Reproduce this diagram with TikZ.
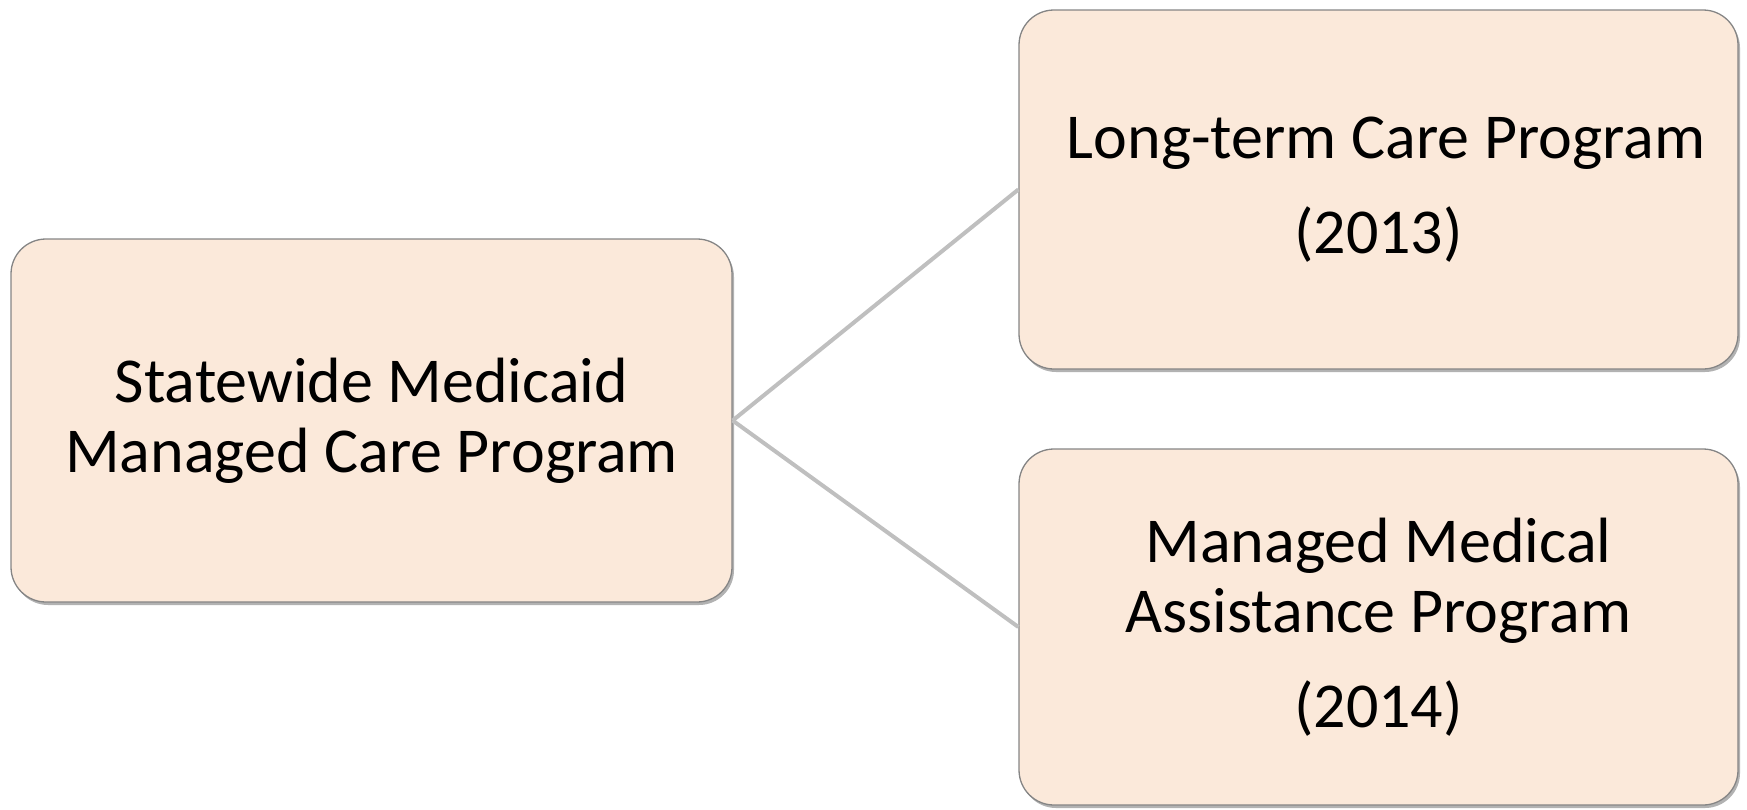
\documentclass[tikz,border=0pt]{standalone}
\usepackage{fontspec}
\setmainfont{Carlito}
\usetikzlibrary{shadows}
\definecolor{boxfill}{HTML}{FBE9DA}
\definecolor{boxline}{HTML}{858585}
\definecolor{conn}{HTML}{BFBFBF}
\tikzset{
  pbox/.style={draw=boxline, line width=1.3pt, fill=boxfill, rounded corners=35pt,
    align=center, inner sep=0pt, font=\fontsize{64}{70}\selectfont,
    drop shadow={shadow xshift=2pt, shadow yshift=-3pt, fill=black, opacity=0.3}},
  connector/.style={draw=conn, line width=4pt}
}
\begin{document}
\begin{tikzpicture}[x=1pt,y=-1pt]
\useasboundingbox (0,0) rectangle (1747,809);
\node[pbox, minimum width=721pt, minimum height=363pt] (L) at (371.5,420.5)
  {Statewide Medicaid\\Managed Care Program};
\node[pbox, minimum width=719pt, minimum height=359pt] (T) at (1378.5,189.5)
  {\hspace*{15pt}Long-term Care Program\\[25pt](2013)};
\node[pbox, minimum width=719pt, minimum height=356pt] (B) at (1378.5,627)
  {Managed Medical\\Assistance Program\\[25pt](2014)};
\draw[connector] (L.east) -- (T.west);
\draw[connector] (L.east) -- (B.west);
\end{tikzpicture}
\end{document}
